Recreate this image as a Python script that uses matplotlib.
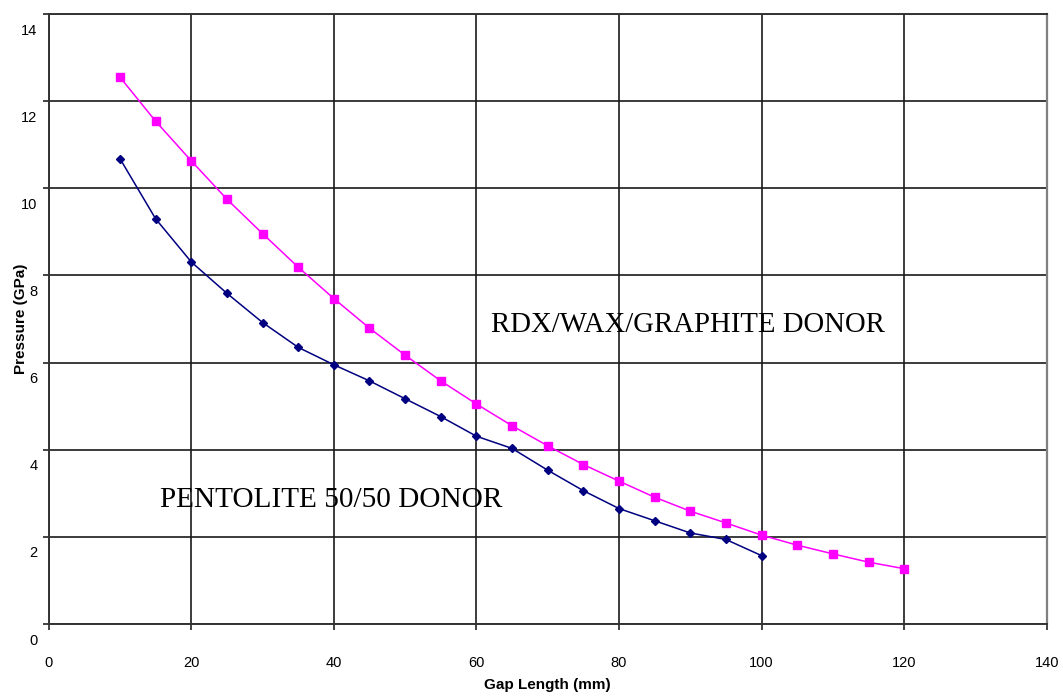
#!/usr/bin/env python3
# Pressure vs gap length for two donor charges (gap test curves).
import matplotlib
matplotlib.use("Agg")
import matplotlib.pyplot as plt
from matplotlib.transforms import ScaledTranslation

# RDX/WAX/GRAPHITE donor
gap_rdx = [10, 15, 20, 25, 30, 35, 40, 45, 50, 55, 60, 65,
           70, 75, 80, 85, 90, 95, 100, 105, 110, 115, 120]
p_rdx = [12.55, 11.54, 10.63, 9.75, 8.96, 8.19, 7.47, 6.79, 6.17, 5.58, 5.05, 4.55,
         4.09, 3.66, 3.28, 2.91, 2.59, 2.32, 2.04, 1.81, 1.61, 1.42, 1.27]

# PENTOLITE 50/50 donor
gap_pent = [10, 15, 20, 25, 30, 35, 40, 45, 50, 55, 60, 65,
            70, 75, 80, 85, 90, 95, 100]
p_pent = [10.68, 9.30, 8.31, 7.59, 6.92, 6.35, 5.95, 5.58, 5.17, 4.76, 4.31, 4.03,
          3.53, 3.06, 2.65, 2.37, 2.09, 1.94, 1.57]

x_ticks = [0, 20, 40, 60, 80, 100, 120, 140]
y_ticks = [0, 2, 4, 6, 8, 10, 12, 14]

plt.rcParams["font.family"] = ["Liberation Sans", "DejaVu Sans"]

fig = plt.figure(figsize=(10.63, 6.97), dpi=100)
ax = fig.add_axes([0.0458, 0.1047, 0.9389, 0.8752])

ax.plot(gap_rdx, p_rdx, color="#FF00FF", lw=1.1, marker="s", ms=6,
        mec="#FF00FF", mfc="#FF00FF", zorder=3)
ax.plot(gap_pent, p_pent, color="#000080", lw=1.1, marker="D", ms=4.5,
        mec="#000080", mfc="#000080", zorder=3)

ax.set_xlim(0, 140)
ax.set_ylim(0, 14)
ax.set_xticks(x_ticks)
ax.set_yticks(y_ticks)
ax.grid(True, color="#1a1a1a", lw=1.2)
ax.set_axisbelow(True)

ax.tick_params(axis="both", direction="out", length=4, width=1.2,
               color="#222222", labelsize=10.5)
ax.tick_params(axis="x", pad=19)
ax.tick_params(axis="y", pad=4)

for s in ["left", "bottom", "top"]:
    ax.spines[s].set_color("#333333")
    ax.spines[s].set_linewidth(1.4)
ax.spines["right"].set_color("#808080")
ax.spines["right"].set_linewidth(1.6)

ax.set_xlabel("Gap Length (mm)", fontsize=11, fontweight="bold", labelpad=6)
ax.set_ylabel("Pressure (GPa)", fontsize=11, fontweight="bold", labelpad=-5)

fig.canvas.draw()
shift = ScaledTranslation(0, -15 / 100, fig.dpi_scale_trans)
for lbl in ax.get_yticklabels():
    lbl.set_transform(lbl.get_transform() + shift)

ax.text(62.0, 6.70, "RDX/WAX/GRAPHITE DONOR", family="Liberation Serif",
        fontsize=20.7, va="baseline", ha="left")
ax.text(15.6, 2.69, "PENTOLITE 50/50 DONOR", family="Liberation Serif",
        fontsize=21.1, va="baseline", ha="left")

fig.savefig("out.png", dpi=100)
